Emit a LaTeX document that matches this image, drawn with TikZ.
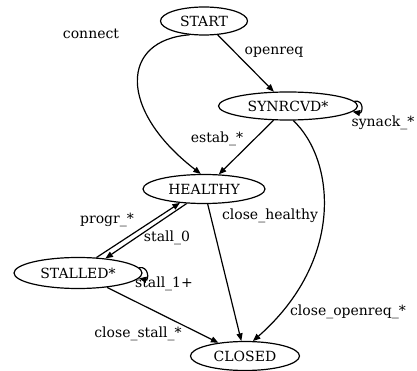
\documentclass[tikz,border=0pt]{standalone}
\usepackage{fontspec}
\setmainfont{DejaVu Serif}
\usetikzlibrary{arrows.meta,shapes.geometric}

\tikzset{
  state/.style={draw, ellipse, line width=1.2pt, inner sep=0pt, minimum height=28pt, font=\fontsize{14}{16}\selectfont},
  edge/.style={line width=1.2pt, -{Triangle[length=7.5pt,width=6pt]}},
  lbl/.style={inner sep=0pt, font=\fontsize{14}{16}\selectfont}
}

\begin{document}
\begin{tikzpicture}[x=1pt, y=-1pt]
			%%%%% START %%%%%
			\useasboundingbox (0,0) rectangle (417,371);
			
			\node[state, minimum width=87pt] (st) at (204,21) {START};
			\node[state, minimum width=139pt] (syn) at (288,106) {SYNRCVD*};
			\node[state, minimum width=122pt, minimum height=29pt] (hea) at (204,189) {HEALTHY};
			\node[state, minimum width=128pt, minimum height=31pt] (sta) at (78,273) {STALLED*};
			\node[state, minimum width=109pt, minimum height=29pt] (clo) at (245,356) {CLOSED};
			
			\draw[edge] (st) -- (syn) node[lbl] at (274,52) {openreq};
			\draw[edge] (st.224) .. controls (120,40) and (118,110) .. (hea.102) node[lbl] at (91,34) {connect};
			
			\draw[edge] (syn.4) .. controls +(10,-2) and +(10,2) .. (syn.-5) node[lbl] at (383,123) {synack\_*};
			\draw[edge] (syn) -- (hea) node[lbl] at (217,139) {estab\_*};
			\draw[edge] (syn.-70) .. controls (335,160) and (345,260) .. (clo.62) node[lbl] at (348,312) {close\_openreq\_*};
			
			\draw[edge] (hea) -- (clo) node[lbl] at (270,216) {close\_healthy};
			\draw[edge] (hea.220) -- (sta.28) node[lbl] at (167,238) {stall\_0};
			\draw[edge] (sta.40) -- (hea.210) node[lbl] at (107,220) {progr\_*};
			
			\draw[edge] (sta.5) .. controls +(10,-2) and +(10,2) .. (sta.-5) node[lbl] at (164,284) {stall\_1+};
			\draw[edge] (sta) -- (clo) node[lbl] at (138,334) {close\_stall\_*};
			
			%%%%% END %%%%%
\end{tikzpicture}
\end{document}
